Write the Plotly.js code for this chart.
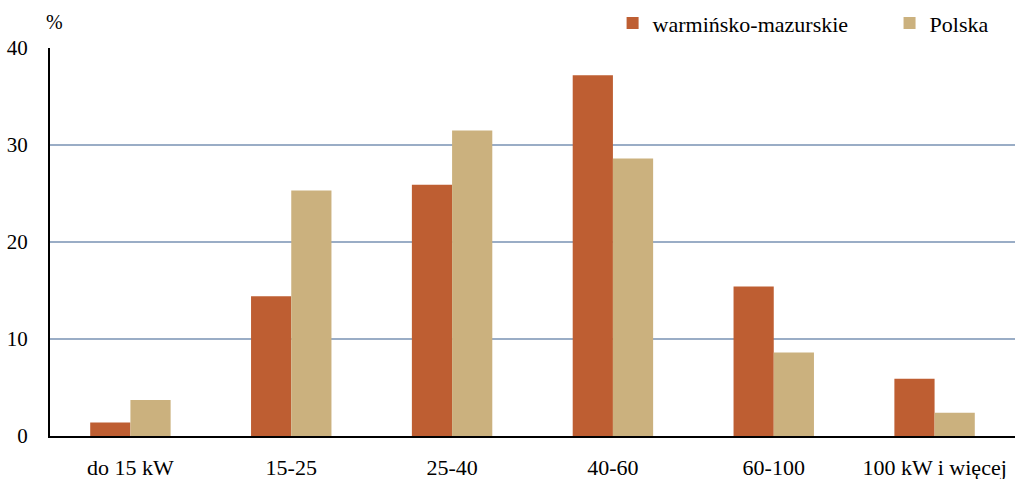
<!DOCTYPE html>
<html>
<head>
<meta charset="utf-8">
<script src="https://cdn.plot.ly/plotly-3.0.1.min.js"></script>
<style>html,body{margin:0;padding:0;background:#fff;}#chart{width:1015px;height:479px;}</style>
</head>
<body>
<div id="chart"></div>
<script>
const categories = ["do 15 kW", "15-25", "25-40", "40-60", "60-100", "100 kW i więcej"];
const warminsko = [1.4, 14.4, 25.9, 37.2, 15.4, 5.9];
const polska = [3.7, 25.3, 31.5, 28.6, 8.6, 2.4];
const seriesNames = ["warmińsko-mazurskie", "Polska"];
const yTicks = [0, 10, 20, 30, 40];

const font = "Liberation Serif";
const data = [
  {type: "bar", x: categories, y: warminsko, name: seriesNames[0], marker: {color: "#BE5E32"}, legend: "legend", showlegend: true},
  {type: "bar", x: categories, y: polska, name: seriesNames[1], marker: {color: "#CBB17E"}, legend: "legend2", showlegend: true}
];
const legBase = {
  orientation: "h", yanchor: "middle", y: 1.064, xanchor: "left",
  font: {family: font, size: 22, color: "#000"},
  bgcolor: "rgba(0,0,0,0)", itemwidth: 30
};
const layout = {
  width: 1015, height: 479,
  showlegend: true,
  margin: {l: 50, r: 0, t: 48, b: 43, autoexpand: false},
  paper_bgcolor: "#fff", plot_bgcolor: "#fff",
  barmode: "group", bargap: 0.5, bargroupgap: 0,
  font: {family: font, size: 20, color: "#000"},
  xaxis: {
    showline: true, linecolor: "#000", linewidth: 2,
    ticks: "", ticklabelstandoff: 11,
    tickfont: {family: font, size: 22, color: "#000"},
    showgrid: false, zeroline: false, fixedrange: true
  },
  yaxis: {
    range: [0, 40], tickvals: yTicks, ticktext: yTicks.map(String),
    showline: true, linecolor: "#000", linewidth: 2,
    ticks: "", ticklabelstandoff: 16,
    tickfont: {family: font, size: 21, color: "#000"},
    showgrid: true, gridcolor: "#9AADC6", gridwidth: 1.6,
    zeroline: false, fixedrange: true
  },
  legend: Object.assign({}, legBase, {x: 0.583}),
  legend2: Object.assign({}, legBase, {x: 0.870}),
  annotations: [{
    text: "%", xref: "paper", yref: "paper", x: 0, y: 1, xanchor: "center", yanchor: "bottom",
    yshift: 13, xshift: 4, showarrow: false, font: {family: font, size: 20, color: "#000"}
  }]
};
Plotly.newPlot("chart", data, layout, {displayModeBar: false, staticPlot: true});
</script>
</body>
</html>
